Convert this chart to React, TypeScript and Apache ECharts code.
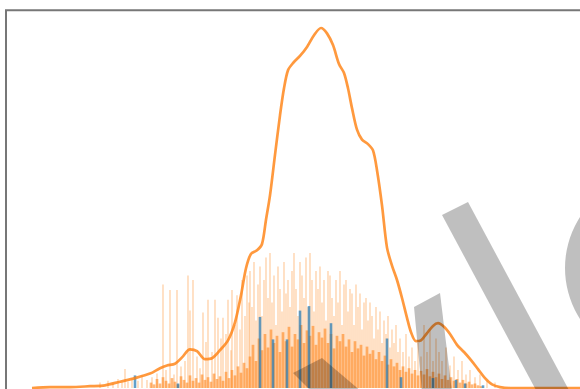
import React, { useEffect, useRef } from "react";
import * as echarts from "echarts";

// Kernel density estimate: [score, density]
const kdeCurve: [number, number][] = [
  [32, 0.0], [50, 0.0001], [70, 0.0001], [90, 0.0002], [105, 0.0003], [120, 0.0007],
  [135, 0.0011], [150, 0.0016], [160, 0.0022], [167, 0.0025], [175, 0.0027], [182, 0.0034],
  [190, 0.0043], [197, 0.0041], [205, 0.0032], [212, 0.0033], [220, 0.0042], [228, 0.0053],
  [235, 0.0073], [241, 0.0103], [246, 0.0133], [251, 0.0149], [257, 0.0153], [262, 0.016],
  [266, 0.0187], [270, 0.0214], [275, 0.0259], [280, 0.0303], [284, 0.0333], [288, 0.0353],
  [293, 0.0361], [300, 0.0369], [307, 0.0379], [314, 0.0392], [321, 0.04], [327, 0.0394],
  [333, 0.0381], [339, 0.036], [344, 0.035], [348, 0.0333], [352, 0.0311], [357, 0.0287],
  [362, 0.0276], [368, 0.0271], [373, 0.0264], [377, 0.0242], [382, 0.0203], [387, 0.0156],
  [392, 0.0136], [397, 0.012], [402, 0.01], [407, 0.0078], [411, 0.0062], [416, 0.0052],
  [421, 0.0053], [427, 0.0061], [433, 0.0069], [438, 0.0072], [444, 0.0068], [450, 0.006],
  [457, 0.0048], [464, 0.004], [471, 0.0031], [478, 0.0021], [485, 0.0011], [492, 0.0004],
  [500, 0.0001], [510, 0.0], [560, 0.0], [580, 0.0],
];

// Narrow-bin histogram, sparse tall bins: [bin centre, count]
const orangeSpikes: [number, number][] = [
  [100, 0.6], [108, 0.8], [113, 0.5], [118, 1.0], [122, 0.6], [125, 2.1], [128, 0.7], [132, 1.1],
  [138, 0.8], [142, 1.4], [147, 0.9], [152, 1.2], [157, 1.6], [163, 11.5], [166, 2.0], [170, 10.9],
  [174, 1.5], [177, 10.9], [181, 2.4], [185, 3.0], [188, 12.5], [190, 8.6], [193, 12.0], [197, 3.5],
  [200, 2.2], [203, 8.4], [206, 5.1], [208, 9.8], [212, 4.0], [215, 9.8], [218, 7.8], [221, 5.5],
  [223, 7.8], [226, 6.0], [228, 9.8], [231, 4.2], [232, 10.9], [235, 7.0], [237, 10.3], [240, 6.5],
  [242, 12.0], [245, 8.0], [247, 12.5], [249, 9.5],
  [250, 13.0], [252, 9.0], [254, 14.0], [256, 7.5], [258, 11.5], [260, 13.5], [262, 8.0], [264, 12.0],
  [266, 14.5], [268, 10.0], [270, 15.0], [272, 9.5], [274, 12.5], [276, 7.0], [278, 13.5], [280, 11.0],
  [282, 8.5], [284, 14.0], [286, 10.5], [288, 12.0], [290, 9.0], [292, 13.0], [294, 15.0], [296, 11.0],
  [298, 8.0], [300, 14.0], [302, 12.5], [304, 10.0], [306, 14.5], [308, 9.0], [310, 15.0], [312, 12.0],
  [314, 8.5], [316, 13.0], [318, 11.0], [320, 13.5], [322, 9.5], [324, 12.0], [326, 7.5], [328, 13.0],
  [330, 12.5], [332, 10.0], [334, 8.0], [336, 12.0], [338, 9.5], [340, 13.0], [342, 7.0], [344, 11.5],
  [346, 12.0], [348, 8.5], [350, 11.0], [352, 10.5], [354, 7.0], [356, 11.5], [358, 9.0], [360, 10.5],
  [362, 6.5], [364, 9.5], [366, 10.0], [368, 7.5], [370, 9.5], [372, 8.0], [374, 5.5], [376, 9.0],
  [378, 6.5], [380, 8.5], [382, 5.0], [384, 7.5], [386, 6.0], [388, 8.0], [390, 4.5], [392, 6.5],
  [394, 5.0], [396, 7.0], [398, 4.0], [400, 5.5], [403, 4.0], [406, 6.0], [409, 3.5], [412, 4.5],
  [415, 3.0], [418, 5.0], [421, 3.5], [424, 7.0], [427, 4.0], [430, 6.5], [433, 3.0], [436, 5.5],
  [439, 4.0], [442, 3.0], [446, 4.5], [450, 2.5], [454, 3.5], [458, 2.0], [462, 3.0], [466, 1.5],
  [470, 2.0], [475, 1.2], [480, 1.5], [487, 0.8], [495, 0.6],
];

// Narrow-bin histogram, dense low bins: [bin centre, count]
const orangeDense: [number, number][] = [
  [151, 0.6], [154, 0.4], [157, 1.0], [160, 0.5], [163, 1.2], [166, 0.8], [169, 0.5], [172, 1.1],
  [175, 0.7], [178, 0.4], [181, 1.3], [184, 0.9], [187, 0.6], [190, 1.4], [193, 0.8], [196, 1.1],
  [199, 0.6], [202, 1.5], [205, 0.9], [208, 1.2], [211, 0.7], [214, 1.6], [217, 1.0], [220, 1.3],
  [223, 0.8], [226, 1.8], [229, 1.1], [232, 2.0], [235, 1.4], [238, 2.4], [241, 1.7], [244, 2.8],
  [247, 2.2], [250, 3.5], [253, 4.8], [256, 3.0], [259, 5.5], [262, 4.2], [265, 6.0], [268, 4.5],
  [271, 6.5], [274, 5.0], [277, 5.8], [280, 4.0], [283, 6.2], [286, 5.2], [289, 6.8], [292, 4.6],
  [295, 6.0], [298, 5.4], [301, 7.0], [304, 5.0], [307, 6.4], [310, 5.8], [313, 6.9], [316, 4.8],
  [319, 6.2], [322, 5.6], [325, 6.6], [328, 5.0], [331, 6.0], [334, 4.4], [337, 5.8], [340, 5.2],
  [343, 6.0], [346, 4.6], [349, 5.4], [352, 4.0], [355, 5.2], [358, 4.4], [361, 4.8], [364, 3.6],
  [367, 4.6], [370, 3.8], [373, 4.2], [376, 3.2], [379, 4.0], [382, 3.0], [385, 3.6], [388, 2.6],
  [391, 3.2], [394, 2.4], [397, 2.8], [400, 2.0], [403, 2.4], [406, 1.8], [409, 2.2], [412, 1.6],
  [415, 2.0], [418, 1.4], [421, 1.9], [424, 1.5], [427, 2.1], [430, 1.3], [433, 1.8], [436, 1.2],
  [439, 1.6], [442, 1.0], [445, 1.4], [448, 0.9], [451, 1.2], [454, 0.8], [457, 1.0], [460, 0.6],
  [463, 0.9], [466, 0.5], [469, 0.7], [472, 0.4], [475, 0.5], [478, 0.3], [481, 0.2],
];

// Second sample, same bins: [bin centre, count]
const blueBins: [number, number][] = [
  [135, 1.4], [178, 0.5], [260, 7.9], [273, 5.4], [287, 5.4], [300, 8.6], [309, 9.1], [331, 7.2],
  [387, 5.5], [401, 1.2], [433, 1.1], [456, 0.9], [465, 0.5], [483, 0.3],
];

const X_MIN = 0;
const X_MAX = 580;
const DENSITY_MAX = 0.042;
const COUNT_MAX = 42;

const SHADE = "rgba(0,0,0,0.25)";

export default function App() {
  const ref = useRef<HTMLDivElement>(null);

  useEffect(() => {
    if (!ref.current) return;
    const chart = echarts.init(ref.current, undefined, { renderer: "svg" });

    const xAxisBase = {
      type: "value" as const,
      min: X_MIN,
      max: X_MAX,
      show: false,
      splitLine: { show: false },
    };

    chart.setOption({
      animation: false,
      backgroundColor: "#ffffff",
      grid: { left: 0, right: 0, top: 10, height: 378, show: false },
      xAxis: [
        { ...xAxisBase },
        { ...xAxisBase },
        { ...xAxisBase },
      ],
      yAxis: [
        { type: "value", min: 0, max: DENSITY_MAX, show: false, splitLine: { show: false } },
        { type: "value", min: 0, max: COUNT_MAX, show: false, splitLine: { show: false } },
      ],
      series: [
        {
          type: "bar",
          xAxisIndex: 0,
          yAxisIndex: 1,
          data: orangeDense,
          barWidth: 2.7,
          itemStyle: { color: "rgba(255,127,14,0.55)" },
          z: 1,
        },
        {
          type: "bar",
          xAxisIndex: 1,
          yAxisIndex: 1,
          data: orangeSpikes,
          barWidth: 1.2,
          itemStyle: { color: "rgba(255,127,14,0.4)" },
          z: 2,
        },
        {
          type: "bar",
          xAxisIndex: 2,
          yAxisIndex: 1,
          data: blueBins,
          barWidth: 2.6,
          itemStyle: { color: "rgba(31,119,180,0.7)" },
          z: 3,
        },
        {
          type: "line",
          xAxisIndex: 0,
          yAxisIndex: 0,
          data: kdeCurve,
          smooth: 0.3,
          showSymbol: false,
          lineStyle: { color: "#ff7f0e", width: 2.7, opacity: 0.8 },
          z: 4,
        },
      ],
      graphic: [
        {
          type: "polyline",
          z: 50,
          shape: { points: [[6, 390], [6, 10.3], [582, 10.3]] },
          style: { stroke: "#777777", lineWidth: 2, fill: "none" },
        },
        {
          type: "polygon",
          z: 60,
          shape: { points: [[442, 215], [468, 202], [570, 392], [537, 392]] },
          style: { fill: SHADE },
        },
        {
          type: "ring",
          z: 60,
          shape: { cx: 659, cy: 268, r: 94, r0: 55 },
          style: { fill: SHADE },
        },
        {
          type: "polygon",
          z: 60,
          shape: { points: [[414, 307], [440, 293], [452, 392], [422, 392]] },
          style: { fill: SHADE },
        },
        {
          type: "polygon",
          z: 60,
          shape: { points: [[293, 373], [322, 358], [362, 392], [312, 392]] },
          style: { fill: SHADE },
        },
      ],
    });

    return () => chart.dispose();
  }, []);

  return (
    <div
      ref={ref}
      style={{ position: "fixed", left: 0, top: 0, width: 580, height: 389 }}
    />
  );
}
